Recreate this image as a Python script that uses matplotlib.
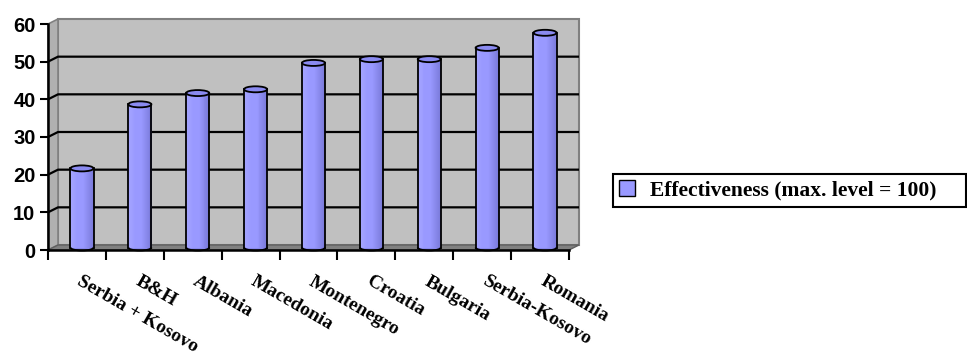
import matplotlib
matplotlib.use('Agg')
import matplotlib.pyplot as plt
from matplotlib.patches import Polygon, Rectangle, Ellipse, Arc
import numpy as np

categories = ['Serbia + Kosovo', 'B&H', 'Albania', 'Macedonia', 'Montenegro',
              'Croatia', 'Bulgaria', 'Serbia-Kosovo', 'Romania']
values = [21, 38, 41, 42, 49, 50, 50, 53, 57]
series_name = 'Effectiveness (max. level = 100)'
yticks = [0, 10, 20, 30, 40, 50, 60]

W, H = 967, 356
fig = plt.figure(figsize=(W / 100, H / 100), dpi=100)
x0, x1, ytop, ybot = 48, 569, 24, 250
ax = fig.add_axes([x0 / W, 1 - ybot / H, (x1 - x0) / W, (ybot - ytop) / H])
n = len(categories)
ymax = yticks[-1]
ax.set_xlim(0, n)
ax.set_ylim(0, ymax)

pxx = (x1 - x0) / n
pxy = (ybot - ytop) / ymax
dx = 10 / pxx
dy = 5 / pxy

# walls and floor
ax.add_patch(Polygon([(dx, dy), (n + dx, dy), (n + dx, ymax + dy), (dx, ymax + dy)],
                     closed=True, facecolor='#c0c0c0', edgecolor='#808080', lw=1.5,
                     clip_on=False, zorder=1))
ax.add_patch(Polygon([(0, 0), (dx, dy), (dx, ymax + dy), (0, ymax)], closed=True,
                     facecolor='#b0b0b0', edgecolor='#808080', lw=1.2, clip_on=False, zorder=1))
ax.add_patch(Polygon([(0, 0), (n, 0), (n + dx, dy), (dx, dy)], closed=True,
                     facecolor='#808080', edgecolor='#606060', lw=1.0, clip_on=False, zorder=1.5))
for t in yticks[1:-1]:
    ax.plot([0, dx, n + dx], [t, t + dy, t + dy], color='black', lw=1.6,
            clip_on=False, zorder=1.2, solid_capstyle='butt')

# cylinders
bw = 0.40
eh = 6 / pxy
light = np.array([0xa6, 0xa6, 0xff]) / 255
mid = np.array([0x99, 0x99, 0xff]) / 255
dark = np.array([0x78, 0x78, 0xd8]) / 255
nstr = 24
for i, v in enumerate(values):
    cx = i + 0.5 + dx / 2
    b = dy / 2
    top = v + dy / 2
    left = cx - bw / 2
    ax.bar(cx, top - b, bottom=b, width=bw, color=mid, edgecolor='none', zorder=3,
           label=series_name if i == 0 else None)
    for k in range(nstr):
        f = (k + 0.5) / nstr
        if f < 0.3:
            c = light + (mid - light) * (f / 0.3)
        elif f < 0.55:
            c = mid
        else:
            c = mid + (dark - mid) * ((f - 0.55) / 0.45)
        ax.add_patch(Rectangle((left + bw * k / nstr, b), bw / nstr + 0.002, top - b,
                               facecolor=c, edgecolor='none', zorder=3.1, clip_on=False))
    ax.add_patch(Ellipse((cx, b), bw, eh, facecolor=(dark + mid) / 2, edgecolor='none',
                         zorder=2.9, clip_on=False))
    ax.add_patch(Arc((cx, b), bw, eh, theta1=180, theta2=360, color='black', lw=1.3,
                     zorder=3.3, clip_on=False))
    ax.plot([left, left], [b, top], color='black', lw=1.3, zorder=3.3, clip_on=False)
    ax.plot([left + bw, left + bw], [b, top], color='black', lw=1.3, zorder=3.3, clip_on=False)
    ax.add_patch(Ellipse((cx, top), bw, eh, facecolor='#8a8af0', edgecolor='black', lw=1.3,
                         zorder=3.4, clip_on=False))

# axes styling
for s in ['top', 'right']:
    ax.spines[s].set_visible(False)
for s in ['left', 'bottom']:
    ax.spines[s].set_linewidth(1.8)
    ax.spines[s].set_zorder(4)
ax.set_yticks(yticks)
ax.set_yticklabels([str(t) for t in yticks], fontfamily='Liberation Sans',
                   fontweight='bold', fontsize=14.5)
ax.tick_params(axis='y', direction='out', length=6, width=1.5, pad=3)
ax.set_xticks(range(n + 1))
ax.set_xticklabels([''] * (n + 1))
ax.tick_params(axis='x', direction='out', length=7, width=1.5)
ax.patch.set_visible(False)

for i, c in enumerate(categories):
    ax.annotate(c, xy=(i + 0.5, 0), xycoords='data', xytext=(6, -23),
                textcoords='offset pixels', rotation=-30, rotation_mode='anchor',
                ha='left', va='top', fontfamily='Liberation Serif', fontweight='bold',
                fontsize=14, annotation_clip=False)

leg = fig.legend(loc='upper left',
                 bbox_to_anchor=(613 / W, 1 - 174 / H, (966 - 613) / W, 0.0),
                 mode='expand',
                 frameon=True, fancybox=False, edgecolor='black', framealpha=1,
                 handlelength=0.7, handleheight=0.7, handletextpad=0.7,
                 borderpad=0.3, borderaxespad=0,
                 prop={'family': 'Liberation Serif', 'weight': 'bold', 'size': 15.5})
leg.get_frame().set_linewidth(1.5)
for h in leg.legend_handles:
    h.set_edgecolor('black')
    h.set_linewidth(1.0)

fig.savefig('out.png', dpi=100)
